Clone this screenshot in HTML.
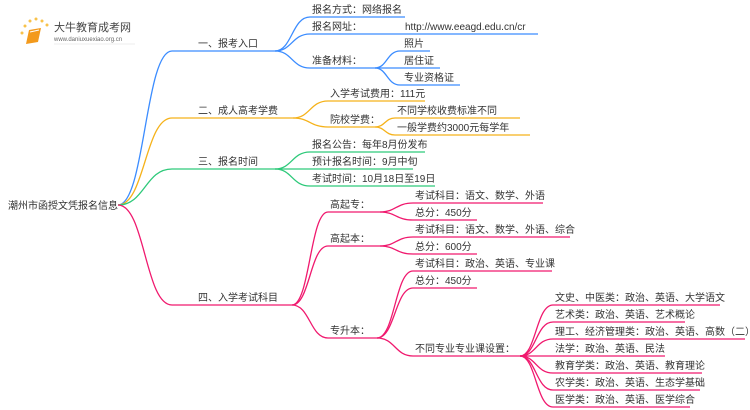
<!DOCTYPE html>
<html><head><meta charset="utf-8"><style>
html,body{margin:0;padding:0;background:#fff;}
svg{display:block;}
text{font-family:"Liberation Sans","Noto Sans CJK SC",sans-serif;font-size:10px;fill:#333;}
.b path{fill:none;stroke:#3b8cff;stroke-width:1.3}
.o path{fill:none;stroke:#f5b21a;stroke-width:1.3}
.g path{fill:none;stroke:#2ec97a;stroke-width:1.3}
.p path{fill:none;stroke:#f0196e;stroke-width:1.3}
</style></head><body>
<svg width="750" height="410" viewBox="0 0 750 410">
<g>
<circle cx="22" cy="33" r="1.5" fill="#f8c24a"/><circle cx="25" cy="26" r="1.5" fill="#f8c24a"/><circle cx="30" cy="21" r="1.5" fill="#f8c24a"/><circle cx="36" cy="19" r="1.5" fill="#f8c24a"/><circle cx="42" cy="21" r="1.5" fill="#f8c24a"/><circle cx="47" cy="25" r="1.5" fill="#f8c24a"/>
<path d="M29 30 L41 28 L38 42 L26 44 Z" fill="#f39a1c"/>
<path d="M30 32 L39 30" stroke="#fff" stroke-width="1"/>
<text x="54" y="31" style="font-size:11px;fill:#444">大牛教育成考网</text>
<text x="54" y="41" style="font-size:6px;fill:#666">www.daniuxuexiao.org.cn</text>
<path d="M54 44 H135" stroke="#ddd" stroke-width="0.5"/>
</g>
<text x="8" y="209">潮州市函授文凭报名信息</text>
<g class="b">
<path d="M118 205 C145 205,145 51,172 51 H275"/>
<path d="M275 51 C292 51,292 17,310 17 H405"/>
<path d="M275 51 C292 51,292 34,310 34 H538"/>
<path d="M275 51 C292 51,292 68,310 68 H375"/>
<path d="M375 68 C387 68,387 51,400 51 H430"/>
<path d="M375 68 H440"/>
<path d="M375 68 C387 68,387 85,400 85 H460"/>
</g>
<text x="198" y="47">一、报考入口</text>
<text x="312" y="13">报名方式：网络报名</text>
<text x="312" y="30">报名网址：</text>
<text x="405" y="30">http://www.eeagd.edu.cn/cr</text>
<text x="312" y="64">准备材料：</text>
<text x="404" y="47">照片</text>
<text x="404" y="64">居住证</text>
<text x="404" y="81">专业资格证</text>
<g class="o">
<path d="M118 205 C145 205,145 118,172 118 H293"/>
<path d="M293 118 C310 118,310 101,328 101 H425"/>
<path d="M293 118 C310 118,310 127,328 127 H375"/>
<path d="M375 127 C385 127,385 118,395 118 H520"/>
<path d="M375 127 C385 127,385 135,395 135 H530"/>
</g>
<text x="198" y="114">二、成人高考学费</text>
<text x="330" y="97">入学考试费用：111元</text>
<text x="330" y="123">院校学费：</text>
<text x="397" y="114">不同学校收费标准不同</text>
<text x="397" y="131">一般学费约3000元每学年</text>
<g class="g">
<path d="M118 205 C145 205,145 169,172 169 H275"/>
<path d="M275 169 C292 169,292 152,310 152 H425"/>
<path d="M275 169 H413"/>
<path d="M275 169 C292 169,292 186,310 186 H435"/>
</g>
<text x="198" y="165">三、报名时间</text>
<text x="312" y="148">报名公告：每年8月份发布</text>
<text x="312" y="165">预计报名时间：9月中旬</text>
<text x="312" y="182">考试时间：10月18日至19日</text>
<g class="p">
<path d="M118 205 C145 205,145 305,172 305 H292"/>
<path d="M292 305 C310 305,310 212,328 212 H380"/>
<path d="M292 305 C310 305,310 246,328 246 H380"/>
<path d="M292 305 C310 305,310 338,328 338 H377"/>
<path d="M380 212 C396 212,396 203,413 203 H543"/>
<path d="M380 212 C396 212,396 220,413 220 H477"/>
<path d="M380 246 C396 246,396 237,413 237 H570"/>
<path d="M380 246 C396 246,396 254,413 254 H477"/>
<path d="M377 338 C395 338,395 271,413 271 H552"/>
<path d="M377 338 C395 338,395 288,413 288 H477"/>
<path d="M377 338 C395 338,395 356,413 356 H520"/>
<path d="M520 356 C536 356,536 305,553 305 H720"/>
<path d="M520 356 C536 356,536 322,553 322 H685"/>
<path d="M520 356 C536 356,536 339,553 339 H745"/>
<path d="M520 356 H665"/>
<path d="M520 356 C536 356,536 373,553 373 H702"/>
<path d="M520 356 C536 356,536 390,553 390 H700"/>
<path d="M520 356 C536 356,536 407,553 407 H690"/>
</g>
<text x="198" y="301">四、入学考试科目</text>
<text x="330" y="208">高起专：</text>
<text x="330" y="242">高起本：</text>
<text x="330" y="334">专升本：</text>
<text x="415" y="199">考试科目：语文、数学、外语</text>
<text x="415" y="216">总分：450分</text>
<text x="415" y="233">考试科目：语文、数学、外语、综合</text>
<text x="415" y="250">总分：600分</text>
<text x="415" y="267">考试科目：政治、英语、专业课</text>
<text x="415" y="284">总分：450分</text>
<text x="415" y="352">不同专业专业课设置：</text>
<text x="555" y="301">文史、中医类：政治、英语、大学语文</text>
<text x="555" y="318">艺术类：政治、英语、艺术概论</text>
<text x="555" y="335">理工、经济管理类：政治、英语、高数（二）</text>
<text x="555" y="352">法学：政治、英语、民法</text>
<text x="555" y="369">教育学类：政治、英语、教育理论</text>
<text x="555" y="386">农学类：政治、英语、生态学基础</text>
<text x="555" y="403">医学类：政治、英语、医学综合</text>
</svg>
</body></html>
